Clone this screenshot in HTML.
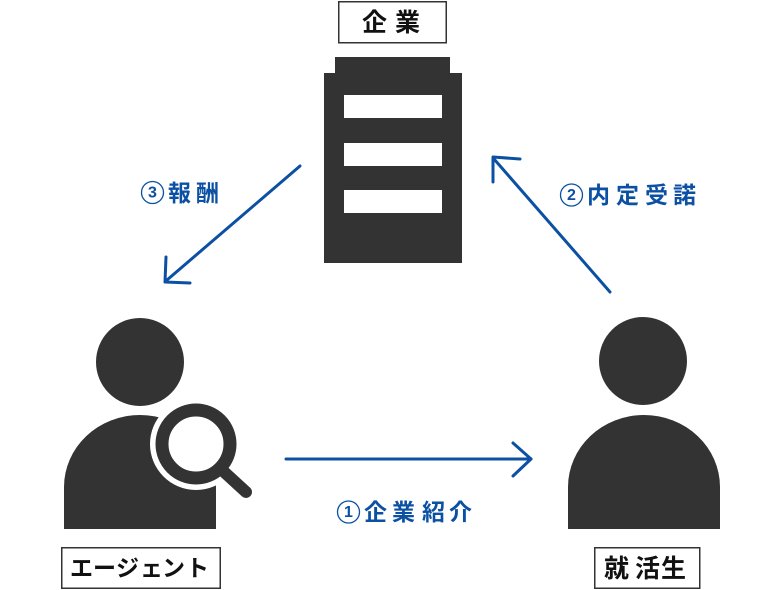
<!DOCTYPE html>
<html><head><meta charset="utf-8">
<style>
html,body{margin:0;padding:0;background:#fff;}
svg{display:block;}
text{font-family:"Liberation Sans","Noto Sans CJK JP",sans-serif;font-weight:bold;dominant-baseline:central;}
</style></head>
<body>
<svg width="780" height="590" viewBox="0 0 780 590" xmlns="http://www.w3.org/2000/svg">
<rect width="780" height="590" fill="#fff"/>

<!-- 企業 label -->
<rect x="338.75" y="1.75" width="107.5" height="41" fill="#fff" stroke="#333" stroke-width="1.5"/>
<text x="362 395" y="23" font-size="25" fill="#111">企業</text>

<!-- Building -->
<rect x="335" y="57" width="115" height="17" fill="#333"/>
<rect x="324" y="73" width="138" height="190" fill="#333"/>
<rect x="344" y="95" width="98" height="23" fill="#fff"/>
<rect x="344" y="143" width="98" height="23" fill="#fff"/>
<rect x="344" y="190" width="98" height="23" fill="#fff"/>

<!-- Agent -->
<circle cx="140" cy="362" r="44" fill="#333"/>
<path d="M64,529 V487 A76,72 0 0 1 216,487 V529 Z" fill="#333"/>
<circle cx="196" cy="444" r="46" fill="#fff"/>
<line x1="222" y1="470" x2="246" y2="493" stroke="#fff" stroke-width="20" stroke-linecap="round"/>
<circle cx="196" cy="444" r="34" fill="none" stroke="#333" stroke-width="13"/>
<line x1="222" y1="470" x2="246" y2="492" stroke="#333" stroke-width="12" stroke-linecap="round"/>

<!-- Student -->
<circle cx="643" cy="361" r="44" fill="#333"/>
<path d="M568,529 V487 A76,72 0 0 1 720,487 V529 Z" fill="#333"/>

<!-- Labels -->
<rect x="61.75" y="547.75" width="158.5" height="40.5" fill="#fff" stroke="#333" stroke-width="1.5"/>
<text x="70 93 116 140 162 186" y="568" font-size="23" fill="#111">エージェント</text>

<rect x="594.75" y="547.75" width="105" height="40.5" fill="#fff" stroke="#333" stroke-width="1.5"/>
<text x="604 635 661" y="569" font-size="25" fill="#111">就活生</text>

<!-- Arrows -->
<g stroke="#0b50a3" stroke-width="3" fill="none" stroke-linecap="round" stroke-linejoin="round">
  <line x1="300" y1="166" x2="167" y2="280"/>
  <polyline points="166,257 165,282 190,283"/>
  <line x1="610" y1="292" x2="494" y2="159"/>
  <polyline points="493,182 493,157 520,159"/>
  <line x1="286" y1="459" x2="531" y2="459"/>
  <polyline points="513,443 531,459 513,476"/>
</g>

<!-- circled numbers -->
<g fill="none" stroke="#0b50a3" stroke-width="1.3">
  <circle cx="152.5" cy="192.5" r="11"/>
  <circle cx="571.5" cy="195" r="11"/>
  <circle cx="348.5" cy="512" r="11"/>
</g>
<g font-size="16" fill="#0b50a3" text-anchor="middle">
  <text x="152.5" y="193">3</text>
  <text x="571.5" y="195.5">2</text>
  <text x="348.5" y="512.5">1</text>
</g>

<text x="168 196" y="193" font-size="23" fill="#0b50a3">報酬</text>
<text x="587 616 645 673" y="195" font-size="23" fill="#0b50a3">内定受諾</text>
<text x="364 392 422 449" y="512" font-size="23" fill="#0b50a3">企業紹介</text>
</svg>
</body></html>
